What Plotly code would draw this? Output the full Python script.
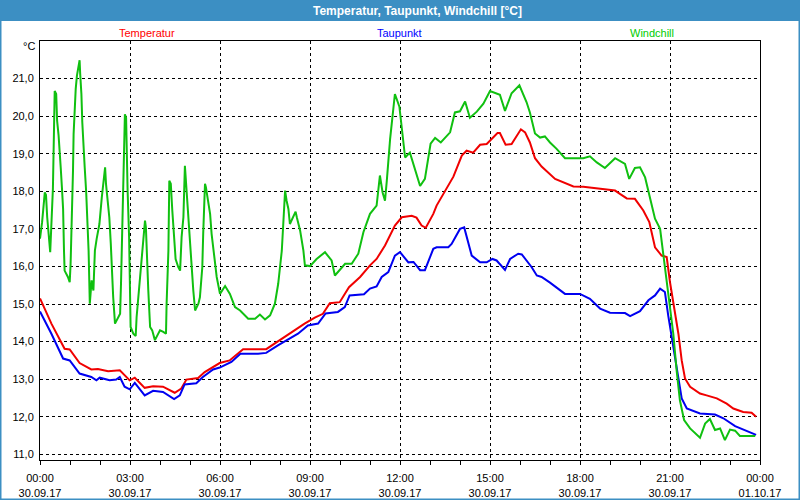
import pandas as pd
import plotly.graph_objects as go

# ---------------- data (hours after 30.09.17 00:00, °C) ----------------
temp_h = [0.0, 0.38, 0.82, 0.99, 1.32, 1.71, 1.93, 2.27, 2.66, 2.99, 3.16, 3.49, 3.77, 4.10, 4.49, 4.71,
          4.88, 5.27, 5.49, 5.99, 6.32, 6.77, 7.54, 7.93, 8.38, 8.82, 9.16, 9.43, 9.66, 9.99, 10.30,
          10.67, 11.00, 11.22, 11.50, 11.83, 12.06, 12.39, 12.55, 12.72, 12.86, 13.11, 13.22, 13.44,
          13.78, 14.06, 14.22, 14.44, 14.67, 14.89, 15.25, 15.33, 15.52, 15.72, 16.03, 16.17, 16.33,
          16.50, 16.72, 17.17, 17.44, 17.78, 18.11, 18.44, 19.17, 19.33, 19.56, 19.83, 20.11, 20.31,
          20.50, 20.72, 20.89, 21.00, 21.11, 21.28, 21.39, 21.50, 21.67, 22.00, 22.22, 22.56, 22.89,
          23.11, 23.44, 23.72, 23.87]
temp_v = [15.15, 14.48, 13.81, 13.79, 13.43, 13.26, 13.27, 13.21, 13.24, 12.97, 13.04, 12.77, 12.81,
          12.80, 12.64, 12.75, 12.99, 13.03, 13.19, 13.43, 13.50, 13.80, 13.80, 14.01, 14.23, 14.48,
          14.64, 14.74, 15.02, 15.05, 15.45, 15.72, 16.03, 16.20, 16.56, 17.09, 17.31, 17.35, 17.30,
          17.09, 17.03, 17.40, 17.62, 17.93, 18.39, 18.95, 19.08, 19.03, 19.24, 19.26, 19.55, 19.55,
          19.24, 19.26, 19.65, 19.57, 19.30, 18.88, 18.66, 18.33, 18.24, 18.13, 18.12, 18.09, 18.02,
          17.93, 17.81, 17.80, 17.49, 17.18, 16.51, 16.29, 16.25, 15.58, 15.01, 14.21, 13.50, 13.02,
          12.80, 12.62, 12.57, 12.49, 12.35, 12.22, 12.13, 12.11, 12.00]

dew_h = [0.0, 0.38, 0.77, 0.99, 1.32, 1.71, 1.88, 1.99, 2.32, 2.54, 2.66, 2.82, 2.99, 3.16, 3.49, 3.77,
         4.10, 4.47, 4.66, 4.82, 5.21, 5.43, 5.77, 5.99, 6.38, 6.68, 7.27, 7.54, 7.93, 8.60, 8.93, 9.27,
         9.52, 9.93, 10.16, 10.32, 10.80, 11.00, 11.22, 11.39, 11.61, 11.83, 12.00, 12.28, 12.45, 12.67,
         12.83, 13.11, 13.22, 13.61, 13.72, 14.00, 14.14, 14.28, 14.39, 14.67, 14.89, 15.08, 15.22,
         15.50, 15.67, 15.94, 16.06, 16.39, 16.56, 16.72, 17.00, 17.50, 18.00, 18.33, 18.67, 19.00,
         19.50, 19.67, 20.00, 20.28, 20.50, 20.67, 20.83, 20.94, 21.06, 21.22, 21.39, 21.56, 21.78,
         22.00, 22.50, 22.78, 23.17, 23.44, 23.87]
dew_v = [14.80, 14.21, 13.55, 13.50, 13.15, 13.06, 12.97, 13.04, 12.97, 12.99, 13.06, 12.80, 12.73,
         12.90, 12.57, 12.69, 12.66, 12.47, 12.57, 12.86, 12.89, 13.06, 13.26, 13.31, 13.46, 13.68,
         13.68, 13.70, 13.90, 14.21, 14.43, 14.48, 14.75, 14.79, 14.92, 15.23, 15.26, 15.41, 15.47,
         15.72, 15.85, 16.29, 16.38, 16.11, 16.12, 15.90, 15.90, 16.47, 16.51, 16.51, 16.60, 17.00,
         17.04, 16.60, 16.29, 16.11, 16.11, 16.20, 16.16, 15.91, 16.20, 16.34, 16.32, 15.98, 15.76,
         15.72, 15.57, 15.27, 15.27, 15.14, 14.88, 14.77, 14.76, 14.68, 14.81, 15.10, 15.23, 15.41,
         15.32, 14.70, 14.12, 13.24, 12.49, 12.22, 12.16, 12.09, 12.06, 11.96, 11.75, 11.66, 11.52]

wind_h = [0.0, 0.07, 0.16, 0.20, 0.24, 0.29, 0.34, 0.38, 0.43, 0.47, 0.49, 0.54, 0.57, 0.62, 0.66, 0.69,
          0.73, 0.77, 0.80, 0.82, 0.93, 0.99, 1.02, 1.04, 1.08, 1.10, 1.12, 1.16, 1.19, 1.23, 1.27, 1.32,
          1.34, 1.38, 1.41, 1.46, 1.49, 1.54, 1.58, 1.62, 1.66, 1.72, 1.78, 1.83, 1.89, 1.98, 2.06, 2.11,
          2.17, 2.20, 2.26, 2.31, 2.36, 2.39, 2.44, 2.50, 2.61, 2.67, 2.70, 2.76, 2.80, 2.83, 2.87, 2.89,
          2.92, 2.97, 3.00, 3.02, 3.11, 3.19, 3.22, 3.28, 3.33, 3.39, 3.44, 3.50, 3.53, 3.56, 3.61, 3.67,
          3.74, 3.83, 3.94, 4.00, 4.11, 4.20, 4.22, 4.28, 4.31, 4.36, 4.41, 4.47, 4.52, 4.61, 4.67, 4.72,
          4.78, 4.83, 4.87, 4.91, 4.98, 5.06, 5.11, 5.17, 5.28, 5.33, 5.41, 5.44, 5.50, 5.53, 5.58, 5.67,
          5.72, 5.78, 5.83, 5.89, 6.00, 6.17, 6.33, 6.50, 6.67, 6.94, 7.17, 7.33, 7.50, 7.67, 7.83, 7.94,
          8.06, 8.11, 8.17, 8.22, 8.28, 8.33, 8.44, 8.52, 8.56, 8.67, 8.78, 8.83, 9.00, 9.22, 9.50, 9.72,
          9.83, 10.17, 10.39, 10.61, 10.78, 11.00, 11.22, 11.33, 11.42, 11.50, 11.56, 11.67, 11.83, 11.98,
          12.17, 12.33, 12.67, 12.83, 13.02, 13.17, 13.36, 13.67, 13.83, 14.00, 14.17, 14.33, 14.56,
          14.78, 15.00, 15.33, 15.50, 15.72, 15.98, 16.22, 16.33, 16.50, 16.67, 16.83, 17.00, 17.22,
          17.50, 18.11, 18.33, 18.56, 18.83, 19.17, 19.50, 19.64, 19.83, 20.00, 20.17, 20.33, 20.50,
          20.67, 20.78, 20.89, 21.00, 21.11, 21.22, 21.33, 21.47, 21.67, 22.00, 22.17, 22.33, 22.50,
          22.67, 22.83, 23.00, 23.17, 23.33, 23.84]
wind_v = [16.74, 17.18, 17.97, 17.90, 17.31, 16.69, 16.38, 17.13, 18.06, 19.79, 20.67, 20.59, 19.88,
          19.48, 19.08, 18.64, 18.11, 17.53, 16.42, 15.89, 15.72, 15.58, 16.07, 16.60, 17.57, 18.55,
          19.52, 20.50, 20.72, 21.07, 21.29, 21.49, 21.12, 20.59, 19.83, 19.26, 18.64, 17.97, 17.18,
          16.42, 15.01, 15.63, 15.36, 16.42, 16.74, 17.13, 17.84, 18.28, 18.64, 18.20, 17.75, 17.31,
          16.60, 15.98, 15.18, 14.48, 14.65, 14.74, 15.54, 17.31, 18.90, 20.05, 19.96, 18.99, 18.02,
          16.78, 15.36, 14.39, 14.21, 14.15, 14.65, 15.18, 15.72, 16.25, 16.60, 17.22, 17.04, 16.16,
          15.36, 14.39, 14.30, 14.04, 14.21, 14.30, 14.26, 14.21, 15.01, 16.42, 18.28, 18.20, 17.49,
          16.78, 16.20, 15.98, 15.89, 16.78, 17.31, 18.68, 18.20, 17.49, 16.69, 15.98, 15.36, 14.83,
          15.01, 15.18, 15.98, 16.87, 18.20, 18.11, 17.84, 17.40, 16.87, 16.42, 16.07, 15.72, 15.27,
          15.48, 15.27, 14.92, 14.83, 14.61, 14.61, 14.72, 14.59, 14.70, 15.01, 15.54, 16.42, 17.31,
          18.02, 17.75, 17.53, 17.13, 17.31, 17.46, 17.31, 16.96, 16.42, 16.03, 16.01, 16.20, 16.38,
          16.16, 15.76, 16.07, 16.07, 16.34, 16.91, 17.40, 17.62, 18.42, 17.97, 17.75, 18.28, 19.39,
          20.59, 20.25, 18.90, 19.03, 18.14, 18.33, 19.27, 19.42, 19.30, 19.57, 20.10, 20.13, 20.39,
          19.96, 20.12, 20.33, 20.67, 20.57, 20.14, 20.61, 20.82, 20.37, 20.10, 19.54, 19.43, 19.46,
          19.30, 19.13, 18.88, 18.88, 18.93, 18.77, 18.62, 18.88, 18.73, 18.33, 18.62, 18.64, 18.37,
          17.80, 17.27, 17.00, 16.29, 15.72, 15.01, 14.21, 13.24, 12.44, 11.91, 11.69, 11.44, 11.82,
          11.94, 11.65, 11.69, 11.38, 11.66, 11.63, 11.49, 11.49]

series_names = ["Temperatur", "Taupunkt", "Windchill"]
series_colors = ["#f00000", "#0000f0", "#10c010"]

tick_hours = [0, 3, 6, 9, 12, 15, 18, 21, 24]
tick_times = ["00:00", "03:00", "06:00", "09:00", "12:00", "15:00", "18:00", "21:00", "00:00"]
tick_dates = ["30.09.17"] * 8 + ["01.10.17"]
y_ticks = [11, 12, 13, 14, 15, 16, 17, 18, 19, 20, 21]

title_text = "Temperatur, Taupunkt, Windchill [°C]"
unit_text = "°C"

# ---------------- figure ----------------
base = pd.Timestamp("2017-09-30 00:00")


def to_dt(hours):
    return [base + pd.Timedelta(hours=h) for h in hours]


W, H = 800, 500
ML, MR, MT, MB = 40, 40, 41, 40
PW, PH = W - ML - MR, H - MT - MB


def px(x):
    return (x - ML) / PW


def py(y):
    return (H - MB - y) / PH


fig = go.Figure()
for name, hh, vv, col in zip(series_names, [temp_h, dew_h, wind_h], [temp_v, dew_v, wind_v], series_colors):
    fig.add_trace(go.Scatter(x=to_dt(hh), y=vv, mode="lines", name=name,
                             line=dict(color=col, width=2), hoverinfo="skip"))

font_family = "Liberation Sans, Arial, sans-serif"

fig.update_layout(
    width=W, height=H,
    margin=dict(l=ML, r=MR, t=MT, b=MB, pad=0, autoexpand=False),
    paper_bgcolor="#ffffff", plot_bgcolor="#ffffff",
    showlegend=False,
    separators=",.",
    font=dict(family=font_family, size=11, color="#000000"),
    xaxis=dict(
        type="date",
        range=[base, base + pd.Timedelta(hours=24)],
        tickvals=to_dt(tick_hours),
        ticktext=[f"{t}<br>{d}" for t, d in zip(tick_times, tick_dates)],
        ticks="outside", ticklen=4, tickcolor="#000000", tickwidth=1,
        showline=True, linecolor="#000000", linewidth=1, mirror=True,
        showgrid=True, gridcolor="#000000", gridwidth=1, griddash="3px,3px",
        zeroline=False,
        minor=dict(dtick=3600000, ticks="outside", ticklen=4, tickcolor="#000000", showgrid=False),
        tickfont=dict(family=font_family, size=11, color="#000000"),
        ticklabelstandoff=4,
        fixedrange=True,
    ),
    yaxis=dict(
        range=[10.85, 22.0],
        tickvals=y_ticks, tickformat=".1f",
        ticks="", showline=True, linecolor="#000000", linewidth=1, mirror=True,
        showgrid=True, gridcolor="#000000", gridwidth=1, griddash="3px,3px",
        zeroline=False,
        tickfont=dict(family=font_family, size=11, color="#000000"),
        ticklabelstandoff=3,
        fixedrange=True,
    ),
    shapes=[
        dict(type="rect", xref="paper", yref="paper", x0=px(0), x1=px(W), y0=py(21), y1=py(0),
             fillcolor="#3c8fc3", line=dict(width=0), layer="above"),
        dict(type="rect", xref="paper", yref="paper", x0=px(0.5), x1=px(W - 0.5), y0=py(H - 0.5), y1=py(0.5),
             fillcolor="rgba(0,0,0,0)", line=dict(color="#3c8fc3", width=2), layer="above"),
    ],
    annotations=[
        dict(text=f"<b>{title_text}</b>", xref="paper", yref="paper", x=px(417), y=py(10.5),
             xanchor="center", yanchor="middle", showarrow=False,
             font=dict(family=font_family, size=12, color="#ffffff")),
        dict(text=unit_text, xref="paper", yref="paper", x=px(37), y=py(46),
             xanchor="right", yanchor="middle", showarrow=False,
             font=dict(family=font_family, size=11, color="#000000")),
    ] + [
        dict(text=n, xref="paper", yref="paper", x=px(cx), y=py(32.5), xanchor="center", yanchor="middle",
             showarrow=False, font=dict(family=font_family, size=11, color=c))
        for n, c, cx in zip(series_names, ["#ff0000", "#0000ff", "#00cc00"], [147, 399, 652])
    ],
)

fig.write_html("out.html", config={"displayModeBar": False},
               post_script="document.body.style.margin='0';document.body.style.padding='0';")
